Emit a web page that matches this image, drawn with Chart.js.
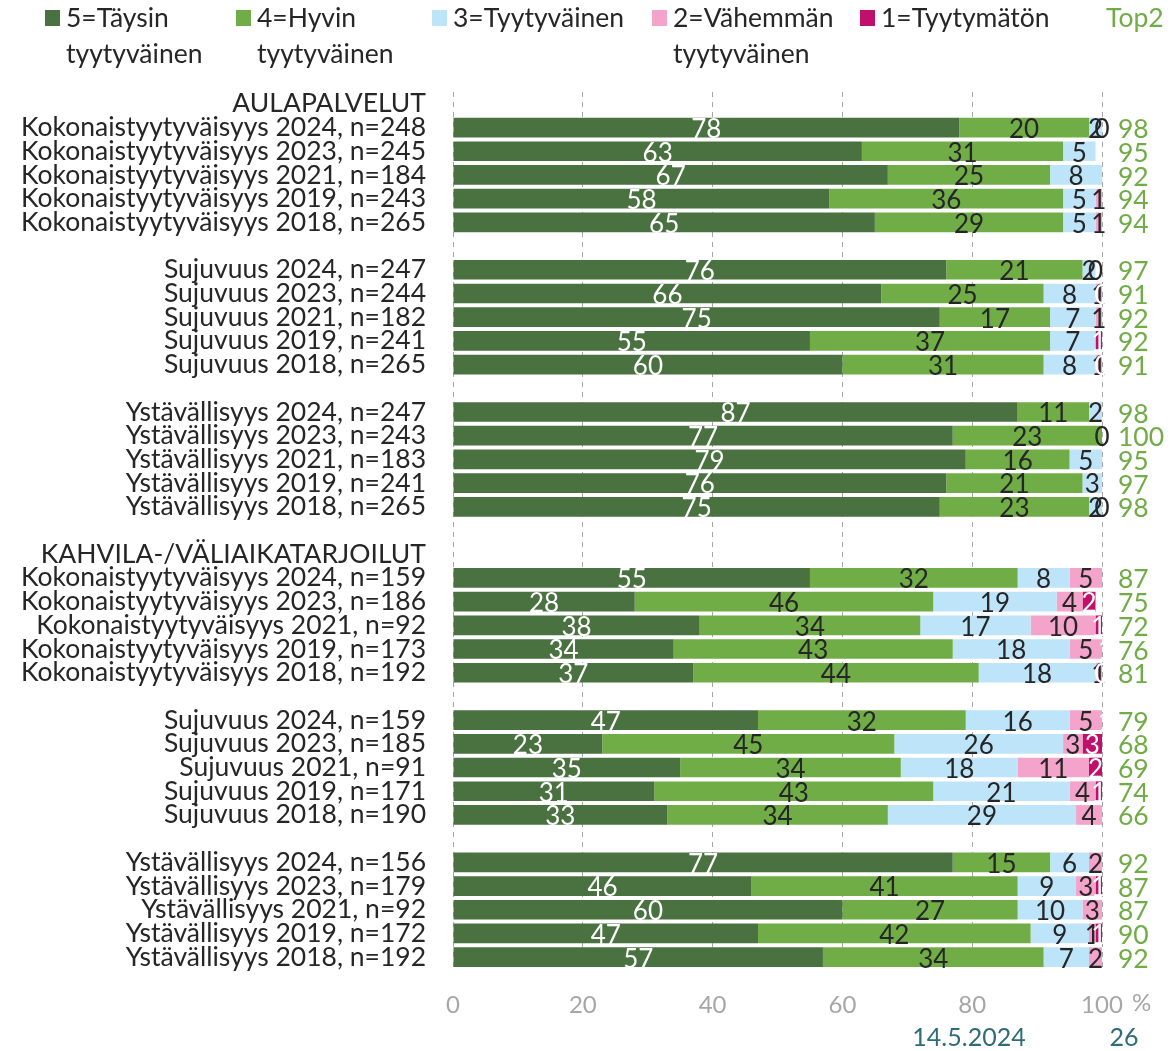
<!DOCTYPE html>
<html>
<head>
<meta charset="utf-8">
<script src="https://cdn.jsdelivr.net/npm/chart.js@4/dist/chart.umd.min.js"></script>
<style>
  html, body { margin: 0; padding: 0; background: #ffffff; }
  #wrap { width: 1173px; height: 1051px; position: relative; }
</style>
</head>
<body>
<div id="wrap"><canvas id="c" width="1173" height="1051"></canvas></div>
<script>
// Row labels (group headers and blank spacer rows included)
const rowLabels = [
  'AULAPALVELUT',
  'Kokonaistyytyväisyys 2024, n=248',
  'Kokonaistyytyväisyys 2023, n=245',
  'Kokonaistyytyväisyys 2021, n=184',
  'Kokonaistyytyväisyys 2019, n=243',
  'Kokonaistyytyväisyys 2018, n=265',
  '',
  'Sujuvuus 2024, n=247',
  'Sujuvuus 2023, n=244',
  'Sujuvuus 2021, n=182',
  'Sujuvuus 2019, n=241',
  'Sujuvuus 2018, n=265',
  '',
  'Ystävällisyys 2024, n=247',
  'Ystävällisyys 2023, n=243',
  'Ystävällisyys 2021, n=183',
  'Ystävällisyys 2019, n=241',
  'Ystävällisyys 2018, n=265',
  '',
  'KAHVILA-/VÄLIAIKATARJOILUT',
  'Kokonaistyytyväisyys 2024, n=159',
  'Kokonaistyytyväisyys 2023, n=186',
  'Kokonaistyytyväisyys 2021, n=92',
  'Kokonaistyytyväisyys 2019, n=173',
  'Kokonaistyytyväisyys 2018, n=192',
  '',
  'Sujuvuus 2024, n=159',
  'Sujuvuus 2023, n=185',
  'Sujuvuus 2021, n=91',
  'Sujuvuus 2019, n=171',
  'Sujuvuus 2018, n=190',
  '',
  'Ystävällisyys 2024, n=156',
  'Ystävällisyys 2023, n=179',
  'Ystävällisyys 2021, n=92',
  'Ystävällisyys 2019, n=172',
  'Ystävällisyys 2018, n=192'
];

// Shares (%) per answer class; null = no segment, 0 = segment shown with a 0 label
const fullySatisfied = [null, 78, 63, 67, 58, 65, null, 76, 66, 75, 55, 60, null, 87, 77, 79, 76, 75, null,
                        null, 55, 28, 38, 34, 37, null, 47, 23, 35, 31, 33, null, 77, 46, 60, 47, 57];
const verySatisfied  = [null, 20, 31, 25, 36, 29, null, 21, 25, 17, 37, 31, null, 11, 23, 16, 21, 23, null,
                        null, 32, 46, 34, 43, 44, null, 32, 45, 34, 43, 34, null, 15, 41, 27, 42, 34];
const satisfied      = [null, 2, 5, 8, 5, 5, null, 2, 8, 7, 7, 8, null, 2, 0, 5, 3, 2, null,
                        null, 8, 19, 17, 18, 18, null, 16, 26, 18, 21, 29, null, 6, 9, 10, 9, 7];
const lessSatisfied  = [null, 0, null, null, 1, 1, null, 0, 1, 1, null, 1, null, null, null, null, null, 0, null,
                        null, 5, 4, 10, 5, 1, null, 5, 3, 11, 4, 4, null, 2, 3, 3, 1, 2];
const dissatisfied   = [null, null, null, null, null, null, null, null, 0, null, 1, 0, null, null, null, null, null, null, null,
                        null, null, 2, 1, 1, 0, null, 1, 3, 2, 1, null, null, null, 1, null, 1, null];
const top2           = [null, 98, 95, 92, 94, 94, null, 97, 91, 92, 92, 91, null, 98, 100, 95, 97, 98, null,
                        null, 87, 75, 72, 76, 81, null, 79, 68, 69, 74, 66, null, 92, 87, 87, 90, 92];

const xTicks = [0, 20, 40, 60, 80, 100];

const seriesNames = [
  ['5=Täysin', 'tyytyväinen'],
  ['4=Hyvin', 'tyytyväinen'],
  ['3=Tyytyväinen'],
  ['2=Vähemmän', 'tyytyväinen'],
  ['1=Tyytymätön']
];
const seriesColors = ['#4a7140', '#70ad47', '#bde4f9', '#f4a3cb', '#c0106b'];
const labelColors  = ['#ffffff', '#262626', '#262626', '#262626', '#ffffff'];

const FONT = 'Lato, "Open Sans", sans-serif';
const TEXT = '#262626';

// Value labels inside each segment, Top2 column, legend and footer
const decorations = {
  id: 'decorations',
  afterDatasetsDraw(chart) {
    const ctx = chart.ctx;
    ctx.save();
    ctx.font = '26px ' + FONT;
    ctx.textAlign = 'center';
    ctx.textBaseline = 'middle';
    chart.data.datasets.forEach((ds, di) => {
      const meta = chart.getDatasetMeta(di);
      ctx.fillStyle = labelColors[di];
      meta.data.forEach((el, i) => {
        const v = ds.data[i];
        if (v === null || v === undefined) return;
        const cx = (el.x + el.base) / 2;
        ctx.fillText(String(v), cx, el.y + 2);
      });
    });
    ctx.restore();
  },
  afterDraw(chart) {
    const ctx = chart.ctx;
    const y = chart.scales.y;
    const x = chart.scales.x;
    ctx.save();
    ctx.textBaseline = 'middle';
    // Top2 column
    ctx.font = '26.5px ' + FONT;
    ctx.fillStyle = '#70ad47';
    ctx.textAlign = 'left';
    top2.forEach((v, i) => {
      if (v === null) return;
      ctx.fillText(String(v), x.right + 16, y.getPixelForValue(i) + 2);
    });
    // Legend
    const legendX = [45, 236, 432, 652, 860];
    ctx.font = '26.5px ' + FONT;
    seriesNames.forEach((lines, i) => {
      ctx.fillStyle = seriesColors[i];
      ctx.fillRect(legendX[i], 10, 15, 16);
      ctx.fillStyle = TEXT;
      lines.forEach((t, k) => ctx.fillText(t, legendX[i] + 21, 18 + k * 36));
    });
    ctx.fillStyle = '#70ad47';
    ctx.fillText('Top2', 1106, 18);
    // Percent sign after the last axis tick
    ctx.font = '24px ' + FONT;
    ctx.fillStyle = '#a6a6a6';
    ctx.fillText('%', 1132, 1003);
    // Footer
    ctx.font = '25px ' + FONT;
    ctx.fillStyle = '#2e6d78';
    ctx.textAlign = 'center';
    ctx.fillText('14.5.2024', 969, 1038);
    ctx.fillText('26', 1124, 1038);
    ctx.restore();
  }
};

new Chart(document.getElementById('c'), {
  type: 'bar',
  data: {
    labels: rowLabels,
    datasets: [fullySatisfied, verySatisfied, satisfied, lessSatisfied, dissatisfied].map((d, i) => ({
      label: seriesNames[i].join(' '),
      data: d,
      backgroundColor: seriesColors[i],
      borderWidth: 0,
      barPercentage: 0.83,
      categoryPercentage: 1.0
    }))
  },
  options: {
    indexAxis: 'y',
    responsive: false,
    animation: false,
    layout: { padding: { top: 92, right: 71, bottom: 0, left: 0 } },
    plugins: { legend: { display: false }, tooltip: { enabled: false } },
    scales: {
      x: {
        stacked: true,
        min: 0,
        max: 100,
        afterFit(s) { s.height = 82; },
        afterBuildTicks(s) { s.ticks = xTicks.map(v => ({ value: v })); },
        grid: { color: '#a6a6a6', lineWidth: 1, drawTicks: false },
        border: { display: false, dash: [5, 5] },
        ticks: { color: '#a6a6a6', font: { family: FONT, size: 24 }, padding: 22 }
      },
      y: {
        stacked: true,
        afterFit(s) { s.width = 453; },
        grid: { display: false, drawTicks: false },
        border: { display: false },
        ticks: { color: TEXT, font: { family: FONT, size: 26.5 }, padding: 27, autoSkip: false }
      }
    }
  },
  plugins: [decorations]
});
</script>
</body>
</html>
